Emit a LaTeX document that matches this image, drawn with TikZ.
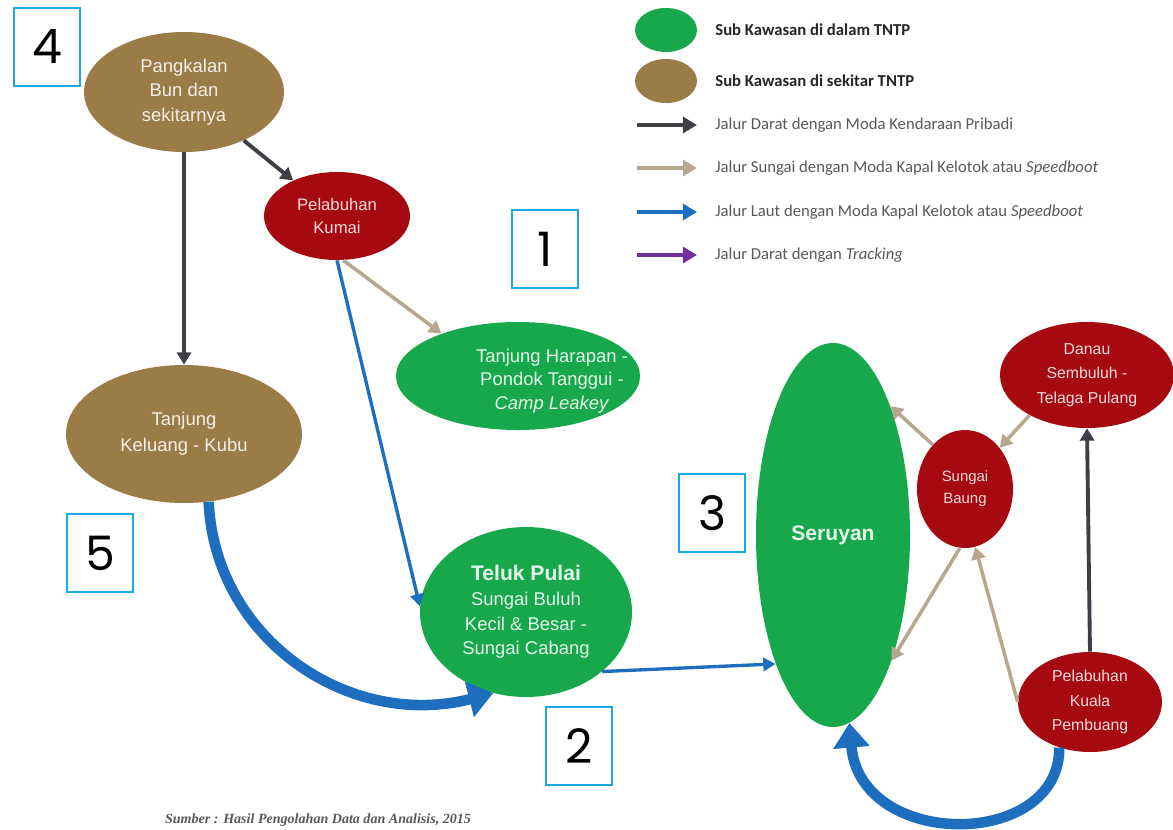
\documentclass[tikz,border=0pt]{standalone}
\usepackage{fontspec}
\setmainfont{Liberation Sans}
\newfontfamily\legfont{Carlito}
\newfontfamily\numfont{Poppins}
\newfontfamily\srcfont{Liberation Serif}
\usetikzlibrary{shapes.geometric,arrows.meta}

\definecolor{tngreen}{RGB}{24,168,76}
\definecolor{tnbrown}{RGB}{156,124,70}
\definecolor{tnred}{RGB}{166,10,16}
\definecolor{roadgray}{RGB}{62,62,70}
\definecolor{rivertan}{RGB}{182,168,142}
\definecolor{seablue}{RGB}{30,110,192}
\definecolor{trackpurple}{RGB}{112,48,160}
\definecolor{boxcyan}{RGB}{28,170,230}

\begin{document}
\begin{tikzpicture}[x=0.2mm,y=-0.2mm,
	inside/.style={ellipse,fill=tngreen,text=white!88!tngreen,align=center,inner sep=0pt},
	around/.style={ellipse,fill=tnbrown,text=white!88!tnbrown,align=center,inner sep=0pt},
	spot/.style={ellipse,fill=tnred,text=white!85!tnred,align=center,inner sep=0pt},
	numbox/.style={draw=boxcyan,line width=1.1pt,fill=white,minimum width=13.2mm,minimum height=15.6mm,font=\numfont\fontsize{27}{30}\selectfont},
	legtext/.style={anchor=west,inner sep=0pt,text=black!65,font=\legfont\fontsize{9.5}{11}\selectfont},
	road/.style={draw=roadgray,line width=2.2pt,-{Triangle[length=7pt,width=8pt]}},
	river/.style={draw=rivertan,line width=2pt,-{Triangle[length=7pt,width=8pt]}},
	sea/.style={draw=seablue,line width=1.9pt,-{Triangle[length=7pt,width=7.5pt]}},
	searoute/.style={draw=seablue,line width=6pt,-{Triangle[length=14pt,width=20pt]}},
	legarrow/.style={line width=2.8pt,shorten >=3.6mm,-{Triangle[length=8pt,width=9pt]}}
]
\fill[white] (0,0) rectangle (1173,829);
\useasboundingbox (0,0) rectangle (1173,829);

% sub kawasan
\node[around,minimum width=40mm,minimum height=24mm,font=\fontsize{10.5}{14}\selectfont] (pbun) at (184,92) {Pangkalan\\Bun dan\\sekitarnya};
\node[spot,minimum width=29.2mm,minimum height=17.6mm,font=\fontsize{9.5}{13}\selectfont] (kumai) at (337,216) {Pelabuhan\\Kumai};
\node[inside,minimum width=48.8mm,minimum height=21.6mm] (harapan) at (518,376) {};
\node[align=center,inner sep=0pt,text=white!88!tngreen,font=\fontsize{10.5}{13.5}\selectfont] (harapantext) at (552,381) {Tanjung Harapan -\\Pondok Tanggui -\\\textit{Camp Leakey}};
\node[around,minimum width=47.2mm,minimum height=27.6mm,font=\fontsize{10.5}{15}\selectfont] (keluang) at (184,434) {Tanjung\\Keluang - Kubu};
\node[inside,minimum width=42.4mm,minimum height=34mm,font=\fontsize{10.5}{14}\selectfont] (teluk) at (526,612) {{\bfseries\fontsize{12}{14}\selectfont Teluk Pulai}\\Sungai Buluh\\Kecil \& Besar -\\Sungai Cabang};
\node[inside,minimum width=30.8mm,minimum height=76.8mm,font=\bfseries\fontsize{12}{14}\selectfont] (seruyan) at (833,535) {Seruyan};
\node[spot,minimum width=19.2mm,minimum height=23.6mm,font=\fontsize{8.5}{12.5}\selectfont] (baung) at (965,489) {Sungai\\Baung};
\node[spot,minimum width=34.8mm,minimum height=21.2mm,font=\fontsize{9}{14}\selectfont] (danau) at (1087,375) {Danau\\Sembuluh -\\Telaga Pulang};
\node[spot,minimum width=28.8mm,minimum height=20mm,font=\fontsize{9}{14}\selectfont] (kuala) at (1090,702) {Pelabuhan\\Kuala\\Pembuang};

% jalur
\draw[road] (pbun) -- (kumai);
\draw[road] (pbun.south) -- (keluang.north);
\draw[river] (kumai.-82) -- (harapan.151);
\draw[sea] (kumai.south) -- (teluk.177);
\draw[sea] (teluk.-38) -- (seruyan.246);
\draw[searoute] (keluang.-70) .. controls (215,640) and (350,730) .. (teluk.-112);
\draw[river] (baung.126) -- (seruyan.66);
\draw[river] (danau.-145) -- (baung.50);
\draw[river] (baung.-95) -- (seruyan.-65);
\draw[river] (kuala.180) -- (baung.-80);
\draw[road] (kuala.north) -- (danau.south);
\draw[searoute] (kuala.-124) .. controls (1060,850) and (860,850) .. (seruyan.-85);

% nomor
\node[numbox] (n4) at (47,47) {4};
\node[numbox] (n1) at (545,249) {1};
\node[numbox] (n3) at (712,513) {3};
\node[numbox] (n5) at (100,553) {5};
\node[numbox] (n2) at (579,746) {2};

% legenda
\node[inside,minimum width=12.4mm,minimum height=8.8mm] (leginside) at (666,30) {};
\node[around,minimum width=12.4mm,minimum height=8.8mm] (legaround) at (666,81) {};
\node[legtext,text=black!85,font=\legfont\bfseries\fontsize{9.5}{11}\selectfont] (tinside) at (715,30) {Sub Kawasan di dalam TNTP};
\node[legtext,text=black!85,font=\legfont\bfseries\fontsize{9.5}{11}\selectfont] (taround) at (715,81) {Sub Kawasan di sekitar TNTP};
\node[legtext] (troad) at (715,125) {Jalur Darat dengan Moda Kendaraan Pribadi};
\node[legtext] (triver) at (715,168) {Jalur Sungai dengan Moda Kapal Kelotok atau \textit{Speedboot}};
\node[legtext] (tsea) at (715,212) {Jalur Laut dengan Moda Kapal Kelotok atau \textit{Speedboot}};
\node[legtext] (ttrack) at (715,255) {Jalur Darat dengan \textit{Tracking}};
\coordinate (roadA) at (637,125);
\coordinate (riverA) at (637,168);
\coordinate (seaA) at (637,212);
\coordinate (trackA) at (637,255);
\draw[legarrow,draw=roadgray] (roadA) -- (roadA -| troad.west);
\draw[legarrow,draw=rivertan] (riverA) -- (riverA -| triver.west);
\draw[legarrow,draw=seablue] (seaA) -- (seaA -| tsea.west);
\draw[legarrow,draw=trackpurple] (trackA) -- (trackA -| ttrack.west);

\node[text=black!65,font=\srcfont\bfseries\itshape\fontsize{8}{10}\selectfont] (source) at (318,820) {Sumber : Hasil Pengolahan Data dan Analisis, 2015};
\end{tikzpicture}
\end{document}
